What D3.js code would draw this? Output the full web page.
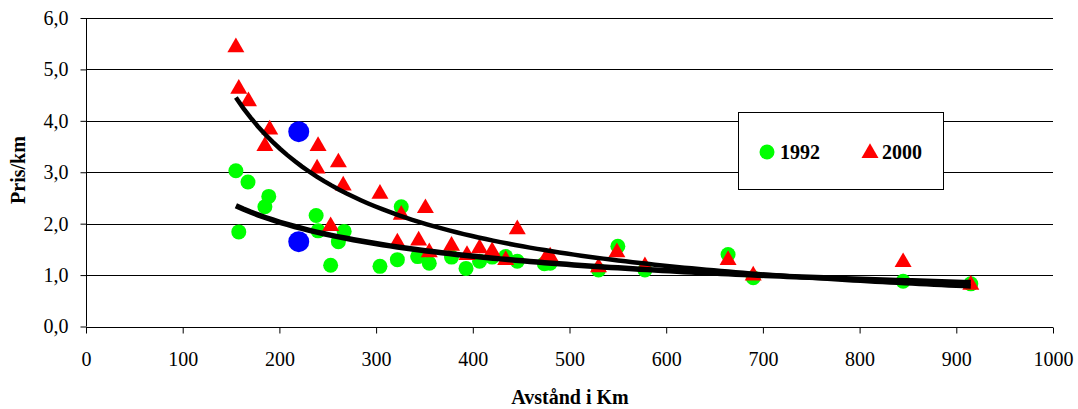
<!DOCTYPE html>
<html><head><meta charset="utf-8">
<script src="https://cdn.jsdelivr.net/npm/d3@7"></script>
<style>body{margin:0;background:#fff}svg{display:block}text{font-family:"Times New Roman",Times,"Liberation Serif",serif;fill:#000}</style>
</head><body><svg id="c" width="1078" height="409"></svg>
<script>
const xTicks = [0,100,200,300,400,500,600,700,800,900,1000];
const yTicks = [0,1,2,3,4,5,6];
const seriesNames = ["1992","2000"];
const x1992 = [155,158,167.5,185,189,238,240,253,261,267,304,322,326,343,355,378,393,407,420,434,446,474,480,530,550,578,664,690,845,915];
const y1992 = [3.03,1.84,2.81,2.33,2.53,2.16,1.86,1.19,1.65,1.85,1.17,1.30,2.33,1.36,1.23,1.35,1.13,1.27,1.35,1.36,1.27,1.22,1.23,1.10,1.56,1.10,1.40,0.95,0.88,0.83];
const x2000 = [155,158,168,185,190,239,240,253,261,266,304,322,326,344,351,355,378,394,407,420,434,446,475,480,530,549,578,664,690,845,915];
const y2000 = [5.45,4.64,4.40,3.53,3.85,3.09,3.53,1.97,3.21,2.76,2.60,1.65,2.19,1.69,2.32,1.46,1.59,1.41,1.54,1.48,1.31,1.91,1.33,1.38,1.17,1.46,1.19,1.31,1.01,1.27,0.83];
// highlighted route: [1992 value, 2000 value]
const xHighlight = [220,220];
const yHighlight = [1.65,3.79];

const FONT = "'Times New Roman',Times,'Liberation Serif',serif";
const svg = d3.select("#c");
const x = d3.scaleLinear().domain([0,1000]).range([86,1053]);
const y = d3.scaleLinear().domain([0,6]).range([326.5,18]);
const fmt = d => d.toFixed(1).replace(".", ",");

// gridlines
svg.append("g").selectAll("line").data(yTicks.filter(d=>d>0)).join("line")
  .attr("x1",x(0)).attr("x2",x(1000)).attr("y1",d=>Math.round(y(d))+0.5).attr("y2",d=>Math.round(y(d))+0.5)
  .attr("stroke","#000").attr("stroke-width",1);

// axes
const ya = d3.axisLeft(y).tickValues(yTicks).tickFormat(fmt).tickSize(6).tickPadding(12);
const gy = svg.append("g").attr("transform",`translate(${Math.round(x(0))+0.5},0)`).call(ya);
const xa = d3.axisBottom(x).tickValues(xTicks).tickFormat(d3.format("d")).tickSize(6).tickPadding(18);
const gx = svg.append("g").attr("transform",`translate(0,${Math.round(y(0))+0.5})`).call(xa);
[gy,gx].forEach(g=>{
  g.attr("font-family",FONT).attr("font-size",20);
  g.select(".domain").attr("stroke","#000").attr("d", g===gy ? `M0,${y(6)}V${y(0)}` : `M${x(0)},0H${x(1000)}`);
  g.selectAll(".tick line").attr("stroke","#000");
  g.selectAll("text").style("font-family",FONT).style("font-size","20px").attr("fill","#000");
});

// axis titles
svg.append("text").attr("transform","translate(25,170) rotate(-90)").attr("text-anchor","middle")
  .style("font-family",FONT).style("font-size","20px").style("font-weight","bold").text("Pris/km");
svg.append("text").attr("x",570).attr("y",404).attr("text-anchor","middle")
  .style("font-family",FONT).style("font-size","20px").style("font-weight","bold").text("Avstånd i Km");

const tri = d3.symbol().type(d3.symbolTriangle).size(125);
// markers
svg.append("g").selectAll("circle").data(x1992.map((v,i)=>[v,y1992[i]])).join("circle")
  .attr("cx",d=>x(d[0])).attr("cy",d=>y(d[1])).attr("r",7.5).attr("fill","#00ff00");
svg.append("g").selectAll("path").data(x2000.map((v,i)=>[v,y2000[i]])).join("path")
  .attr("d",tri).attr("transform",d=>`translate(${x(d[0])},${y(d[1])+1})`).attr("fill","#ff0000");
svg.append("g").selectAll("circle").data(xHighlight.map((v,i)=>[v,yHighlight[i]])).join("circle")
  .attr("cx",d=>x(d[0])).attr("cy",d=>y(d[1])).attr("r",10.5).attr("fill","#0000ff");

// power trendlines (least squares on ln-ln), highlighted route included in each year
function powerFit(xs, ys){
  const lx = xs.map(Math.log), ly = ys.map(Math.log);
  const mx = d3.mean(lx), my = d3.mean(ly);
  const b = d3.sum(lx.map((v,i)=>(v-mx)*(ly[i]-my))) / d3.sum(lx.map(v=>(v-mx)*(v-mx)));
  const a = Math.exp(my - b*mx);
  return {a,b,min:d3.min(xs),max:d3.max(xs)};
}
const line = d3.line().x(d=>x(d[0])).y(d=>y(d[1]));
[[x1992.concat([xHighlight[0]]),y1992.concat([yHighlight[0]]),5.5],
 [x2000.concat([xHighlight[1]]),y2000.concat([yHighlight[1]]),4.5]].forEach(([xs,ys,w])=>{
  const f = powerFit(xs,ys);
  const pts = d3.range(0,101).map(i=>{const v=f.min+(f.max-f.min)*i/100;return [v,f.a*Math.pow(v,f.b)];});
  svg.append("path").attr("d",line(pts)).attr("fill","none").attr("stroke","#000").attr("stroke-width",w);
});

// legend
const lg = svg.append("g");
lg.append("rect").attr("x",738.5).attr("y",112.5).attr("width",205).attr("height",77).attr("fill","#fff").attr("stroke","#000");
lg.append("circle").attr("cx",767).attr("cy",152).attr("r",7.5).attr("fill","#00ff00");
lg.append("text").attr("x",780).attr("y",159).style("font-family",FONT).style("font-size","20px").style("font-weight","bold").text(seriesNames[0]);
lg.append("path").attr("d",tri).attr("transform","translate(870,153)").attr("fill","#ff0000");
lg.append("text").attr("x",882).attr("y",159).style("font-family",FONT).style("font-size","20px").style("font-weight","bold").text(seriesNames[1]);
</script></body></html>
